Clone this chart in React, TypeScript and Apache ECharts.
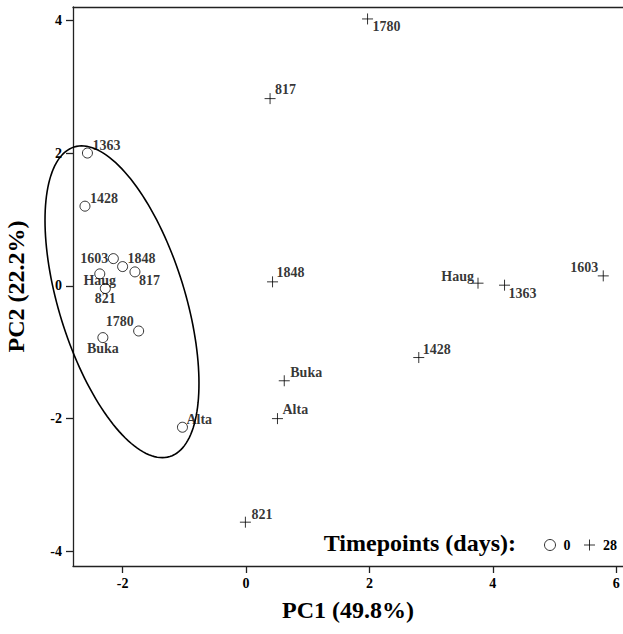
import React, { useEffect, useRef } from "react";
import * as echarts from "echarts";

// Day 0 samples (circles)
const names0 = ["1363", "1428", "1603", "1848", "817", "Haug", "821", "1780", "Buka", "Alta"];
const pc1Day0 = [-2.57, -2.61, -2.15, -2.0, -1.8, -2.37, -2.28, -1.74, -2.32, -1.03];
const pc2Day0 = [2.0, 1.2, 0.41, 0.29, 0.21, 0.18, -0.04, -0.68, -0.78, -2.13];

// Day 28 samples (crosses)
const names28 = ["1780", "817", "1848", "Haug", "1363", "1603", "1428", "Buka", "Alta", "821"];
const pc1Day28 = [1.97, 0.39, 0.43, 3.76, 4.19, 5.79, 2.8, 0.62, 0.51, -0.01];
const pc2Day28 = [4.02, 2.82, 0.06, 0.04, 0.01, 0.15, -1.08, -1.43, -2.0, -3.56];

const xTicks = [-2, 0, 2, 4, 6];
const yTicks = [-4, -2, 0, 2, 4];

// Confidence ellipse of the day-0 group (data units)
const ellipseCenter = [-2.01, -0.24];
const ellipseMajor = [0.776, -2.331];
const ellipseMinor = [0.977, 0.282];

// label placement: [align, dx, dy]
const place0: Record<string, [string, number, number]> = {
  "1363": ["left", 5, -8],
  "1428": ["left", 5, -8],
  "1603": ["right", -5, 0],
  "1848": ["left", 5, -8],
  "817": ["left", 4, 9],
  Haug: ["center", 0, 7],
  "821": ["center", 0, 10],
  "1780": ["right", -5, -9],
  Buka: ["center", 0, 11],
  Alta: ["left", 4, -8],
};
const place28: Record<string, [string, number, number]> = {
  "1780": ["left", 5, 8],
  "817": ["left", 5, -9],
  "1848": ["left", 4, -9],
  Haug: ["right", -4, -7],
  "1363": ["left", 4, 8],
  "1603": ["right", -5, -8],
  "1428": ["left", 4, -8],
  Buka: ["left", 6, -8],
  Alta: ["left", 5, -9],
  "821": ["left", 6, -8],
};

const FONT = "'Liberation Serif', 'Times New Roman', serif";
const CROSS = "path://M0,5L10,5M5,0L5,10";

function build(names: string[], xs: number[], ys: number[], place: Record<string, [string, number, number]>) {
  return names.map((n, i) => {
    const p = place[n] || ["left", 5, -8];
    return {
      name: n,
      value: [xs[i], ys[i]],
      label: { align: p[0], offset: [p[1], p[2]] },
    };
  });
}

export default function App() {
  const ref = useRef<HTMLDivElement>(null);
  useEffect(() => {
    if (!ref.current) return;
    const chart = echarts.init(ref.current, null, { renderer: "svg" });
    const labelBase = {
      show: true,
      position: "inside",
      verticalAlign: "middle",
      formatter: "{b}",
      color: "#000",
      textBorderWidth: 0,
      fontFamily: FONT,
      fontWeight: "bold",
      fontSize: 14,
    };
    const xMin = -2.804;
    const xMax = 6.11;
    const yMin = -4.22;
    const yMax = 4.2;
    chart.setOption({
      animation: false,
      backgroundColor: "#fff",
      grid: { left: 73, right: 0, top: 7, bottom: 68, containLabel: false, outerBoundsMode: "none" },
      title: {
        text: "Timepoints (days):",
        right: 107,
        top: 531,
        padding: 0,
        textStyle: { fontFamily: FONT, fontWeight: "bold", fontSize: 24, color: "#000" },
      },
      legend: {
        data: [
          { name: "0", icon: "circle" },
          { name: "28", icon: CROSS },
        ],
        right: 6,
        top: 538,
        itemWidth: 11,
        itemHeight: 11,
        itemGap: 13,
        padding: 0,
        itemStyle: { color: "rgba(0,0,0,0)", borderColor: "#000", borderWidth: 1 },
        textStyle: { fontFamily: FONT, fontWeight: "bold", fontSize: 14, color: "#000", padding: [0, 0, 0, 3] },
      },
      xAxis: [
        {
          type: "value",
          min: xMin,
          max: xMax,
          name: "PC1 (49.8%)",
          nameLocation: "middle",
          nameGap: 32,
          nameTextStyle: { fontFamily: FONT, fontWeight: "bold", fontSize: 24, color: "#000" },
          axisLine: { show: true, onZero: false, lineStyle: { color: "#222", width: 1.3 } },
          axisTick: { show: true, length: 7, customValues: xTicks, lineStyle: { color: "#222", width: 1.3 } },
          axisLabel: {
            customValues: xTicks,
            margin: 10,
            color: "#000",
            fontFamily: FONT,
            fontWeight: "bold",
            fontSize: 14,
          },
          splitLine: { show: false },
        },
        {
          type: "value",
          min: xMin,
          max: xMax,
          position: "top",
          axisLine: { show: true, onZero: false, lineStyle: { color: "#222", width: 1.3 } },
          axisTick: { show: false },
          axisLabel: { show: false },
          splitLine: { show: false },
        },
      ],
      yAxis: {
        type: "value",
        min: yMin,
        max: yMax,
        name: "PC2 (22.2%)",
        nameLocation: "middle",
        nameGap: 45,
        nameTextStyle: { fontFamily: FONT, fontWeight: "bold", fontSize: 24, color: "#000" },
        axisLine: { show: true, onZero: false, lineStyle: { color: "#222", width: 1.3 } },
        axisTick: { show: true, length: 7, customValues: yTicks, lineStyle: { color: "#222", width: 1.3 } },
        axisLabel: {
          customValues: yTicks,
          margin: 11,
          color: "#000",
          fontFamily: FONT,
          fontWeight: "bold",
          fontSize: 14,
        },
        splitLine: { show: false },
      },
      series: [
        {
          type: "custom",
          name: "ellipse",
          clip: false,
          silent: true,
          data: [ellipseCenter],
          renderItem: (_params: any, api: any) => {
            const pts: number[][] = [];
            const N = 160;
            for (let i = 0; i <= N; i++) {
              const t = (i / N) * Math.PI * 2;
              const c = Math.cos(t);
              const s = Math.sin(t);
              const x = ellipseCenter[0] + ellipseMajor[0] * c + ellipseMinor[0] * s;
              const y = ellipseCenter[1] + ellipseMajor[1] * c + ellipseMinor[1] * s;
              pts.push(api.coord([x, y]));
            }
            return {
              type: "polyline",
              shape: { points: pts },
              style: { stroke: "#000", lineWidth: 1.6, fill: null },
            };
          },
          z: 1,
        },
        {
          type: "scatter",
          name: "0",
          symbol: "circle",
          symbolSize: 10,
          itemStyle: { color: "rgba(0,0,0,0)", borderColor: "#000", borderWidth: 1 },
          label: labelBase,
          data: build(names0, pc1Day0, pc2Day0, place0),
          z: 3,
        },
        {
          type: "scatter",
          name: "28",
          symbol: CROSS,
          symbolSize: 11,
          itemStyle: { color: "rgba(0,0,0,0)", borderColor: "#000", borderWidth: 1 },
          label: labelBase,
          data: build(names28, pc1Day28, pc2Day28, place28),
          z: 3,
        },
      ],
    });
    return () => chart.dispose();
  }, []);
  return (
    <div
      ref={ref}
      style={{ position: "absolute", left: 0, top: 0, width: 623, height: 634, background: "#fff" }}
    />
  );
}
